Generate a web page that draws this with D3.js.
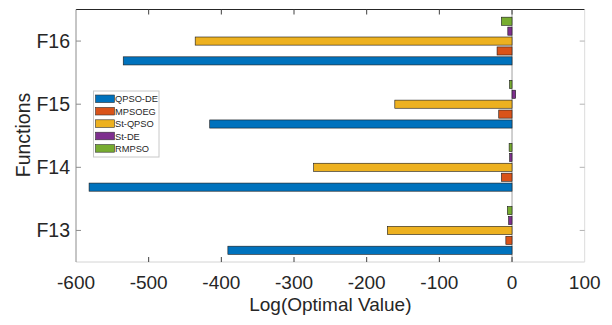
<!DOCTYPE html>
<html>
<head>
<meta charset="utf-8">
<script src="https://cdn.jsdelivr.net/npm/d3@7"></script>
<style>
  body { margin: 0; background: #fff; }
  text { font-family: "Liberation Sans", Arial, sans-serif; fill: #262626; }
</style>
</head>
<body>
<script>
// functions, bottom to top
var functions = ["F13", "F14", "F15", "F16"]
var methods = ["QPSO-DE", "MPSOEG", "St-QPSO", "St-DE", "RMPSO"]
var colors = ["#0072BD", "#D95319", "#EDB120", "#7E2F8E", "#77AC30"]

// log(optimal value) per method, in the order of functions
var qpsode = [-391, -582, -416, -535]
var mpsoeg = [-8.5, -14.6, -18.3, -20.6]
var stqpso = [-171.6, -273, -161.3, -436]
var stde = [-4.7, -3.3, 5, -5.8]
var rmpso = [-6.4, -4, -3.5, -14.6]

var xticks = [-600, -500, -400, -300, -200, -100, 0, 100]

var seriesvals = [qpsode, mpsoeg, stqpso, stde, rmpso]

var rows = []
functions.forEach(function (f, i) {
    methods.forEach(function (m, j) {
        rows.push({f: f, m: m, j: j, v: seriesvals[j][i]})
    })
})

var width = 612, height = 325
var margin = {left: 76, right: 27.3, top: 9.5, bottom: 63}
var pw = width - margin.left - margin.right
var ph = height - margin.top - margin.bottom

var svg = d3.select("body").append("svg")
    .attr("width", width)
    .attr("height", height)

var g = svg.append("g")
    .attr("transform", "translate(" + margin.left + "," + margin.top + ")")

var xscale = d3.scaleLinear().domain([-600, 100]).range([0, pw])

// F13 at the bottom
var yscale = d3.scaleBand().domain(functions.slice().reverse()).range([0, ph]).padding(0)

// inside a group, QPSO-DE lowest, RMPSO on top
var inner = d3.scaleBand()
    .domain(methods.slice().reverse())
    .range([yscale.bandwidth() * 0.1075, yscale.bandwidth() * 0.8925])
    .paddingInner(0.18)
    .paddingOuter(0.09)

// zero baseline
g.append("line")
    .attr("x1", xscale(0)).attr("x2", xscale(0))
    .attr("y1", 0).attr("y2", ph)
    .attr("stroke", "#a0a0a0")
    .attr("stroke-width", 1)

g.selectAll("rect.bar")
    .data(rows)
    .enter()
    .append("rect")
    .attr("class", "bar")
    .attr("x", function (d) { return xscale(Math.min(0, d.v)) })
    .attr("width", function (d) { return Math.abs(xscale(d.v) - xscale(0)) })
    .attr("y", function (d) { return yscale(d.f) + inner(d.m) })
    .attr("height", inner.bandwidth())
    .attr("fill", function (d) { return colors[d.j] })
    .attr("stroke", "#1a1a1a")
    .attr("stroke-width", 0.6)

// box lines
g.append("line").attr("x1", 0).attr("x2", pw).attr("y1", 0).attr("y2", 0)
    .attr("stroke", "#262626").attr("stroke-width", 1)
g.append("line").attr("x1", 0).attr("x2", pw).attr("y1", ph).attr("y2", ph)
    .attr("stroke", "#d4d4d4").attr("stroke-width", 1)
g.append("line").attr("x1", 0).attr("x2", 0).attr("y1", 0).attr("y2", ph)
    .attr("stroke", "#8c8c8c").attr("stroke-width", 1)
g.append("line").attr("x1", pw).attr("x2", pw).attr("y1", 0).attr("y2", ph)
    .attr("stroke", "#dcdcdc").attr("stroke-width", 1)

// x ticks, bottom and top
var tl = 5
g.selectAll("line.xb")
    .data(xticks.slice(1, -1))
    .enter()
    .append("line")
    .attr("x1", function (d) { return xscale(d) })
    .attr("x2", function (d) { return xscale(d) })
    .attr("y1", ph).attr("y2", ph - tl)
    .attr("stroke", "#404040")
g.selectAll("line.xt")
    .data(xticks.slice(1, -1))
    .enter()
    .append("line")
    .attr("x1", function (d) { return xscale(d) })
    .attr("x2", function (d) { return xscale(d) })
    .attr("y1", 0).attr("y2", tl)
    .attr("stroke", "#404040")

g.selectAll("text.xl")
    .data(xticks)
    .enter()
    .append("text")
    .attr("x", function (d) { return xscale(d) })
    .attr("y", ph + 26.5)
    .attr("text-anchor", "middle")
    .style("font-size", "19px")
    .text(function (d) { return d })

// y ticks, left and right
g.selectAll("line.yl")
    .data(functions)
    .enter()
    .append("line")
    .attr("x1", 0).attr("x2", tl)
    .attr("y1", function (d) { return yscale(d) + yscale.bandwidth() / 2 })
    .attr("y2", function (d) { return yscale(d) + yscale.bandwidth() / 2 })
    .attr("stroke", "#8c8c8c")
g.selectAll("line.yr")
    .data(functions)
    .enter()
    .append("line")
    .attr("x1", pw).attr("x2", pw - tl)
    .attr("y1", function (d) { return yscale(d) + yscale.bandwidth() / 2 })
    .attr("y2", function (d) { return yscale(d) + yscale.bandwidth() / 2 })
    .attr("stroke", "#b4b4b4")

g.selectAll("text.yl")
    .data(functions)
    .enter()
    .append("text")
    .attr("x", -6)
    .attr("y", function (d) { return yscale(d) + yscale.bandwidth() / 2 })
    .attr("dy", "0.36em")
    .attr("text-anchor", "end")
    .style("font-size", "19.5px")
    .text(function (d) { return d })

// axis titles
svg.append("text")
    .attr("x", margin.left + pw / 2)
    .attr("y", 310.5)
    .attr("text-anchor", "middle")
    .style("font-size", "19px")
    .text("Log(Optimal Value)")

svg.append("text")
    .attr("transform", "translate(30,135) rotate(-90)")
    .attr("text-anchor", "middle")
    .style("font-size", "19.5px")
    .text("Functions")

// legend
var leg = svg.append("g").attr("transform", "translate(93.5,91)")
leg.append("rect")
    .attr("width", 65.5).attr("height", 66)
    .attr("fill", "#fff")
    .attr("stroke", "#c8c8c8")
    .attr("stroke-width", 1)

var items = leg.selectAll("g.item")
    .data(methods)
    .enter()
    .append("g")
    .attr("transform", function (d, i) { return "translate(2," + (4 + i * 12.4) + ")" })

items.append("rect")
    .attr("width", 19).attr("height", 7.6)
    .attr("fill", function (d, i) { return colors[i] })
    .attr("stroke", "#333")
    .attr("stroke-width", 0.6)

items.append("text")
    .attr("x", 19.5)
    .attr("y", 4)
    .attr("dy", "0.36em")
    .style("font-size", "9.3px")
    .text(function (d) { return d })
</script>
</body>
</html>
